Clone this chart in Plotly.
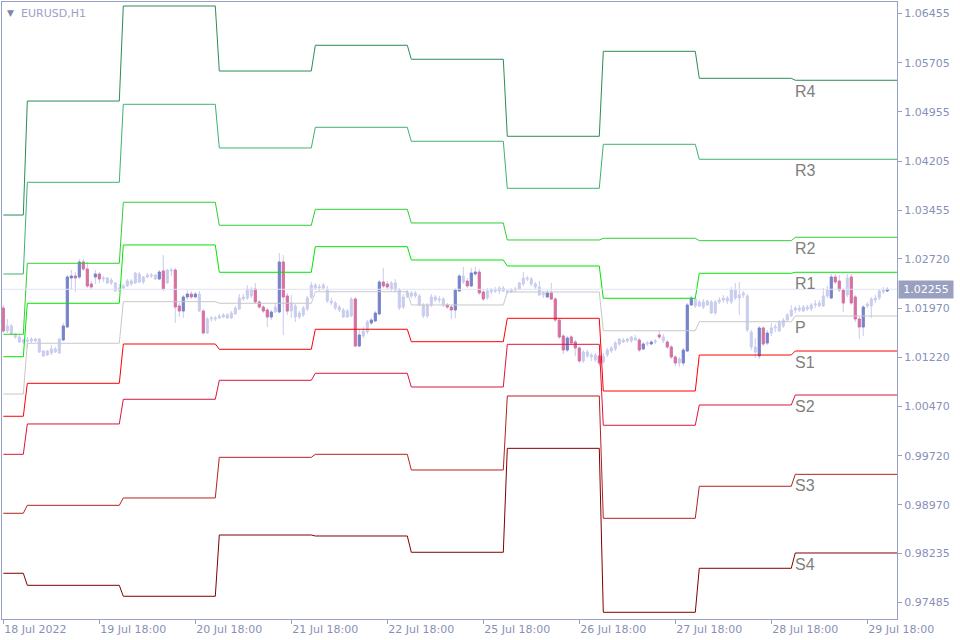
import plotly.graph_objects as go

symbol = "EURUSD,H1"
day_bars = [6, 24, 24, 24, 24, 24, 24, 24, 24, 24]

opens = [1.01970,1.01620,1.01696,1.01574,1.01529,1.01452,1.01483,1.01468,1.01498,1.01498,
 1.01315,1.01254,1.01285,1.01300,1.01285,1.01483,1.01681,1.02427,1.02457,1.02442,
 1.02671,1.02564,1.02336,1.02442,1.02488,1.02412,1.02427,1.02351,1.02351,1.02244,
 1.02275,1.02305,1.02381,1.02351,1.02488,1.02366,1.02442,1.02457,1.02473,1.02412,
 1.02534,1.02351,1.02534,1.02549,1.02001,1.01924,1.02138,1.02183,1.02138,1.02183,
 1.01924,1.01589,1.01803,1.01818,1.01818,1.01833,1.01864,1.01818,1.01879,1.01955,
 1.02107,1.02122,1.02259,1.02259,1.02062,1.01985,1.01940,1.01833,1.01909,1.01909,
 1.02671,1.02153,1.01924,1.02001,1.01833,1.01864,1.01955,1.02138,1.02320,1.02275,
 1.02275,1.02244,1.02077,1.02046,1.01985,1.01940,1.01833,1.01848,1.02107,1.01391,
 1.01544,1.01605,1.01742,1.01772,1.01879,1.02366,1.02336,1.02259,1.02351,1.02244,
 1.01985,1.02138,1.02199,1.02153,1.02153,1.02016,1.01848,1.02016,1.02138,1.02092,
 1.02107,1.02016,1.01985,1.01940,1.02229,1.02457,1.02381,1.02305,1.02488,1.02518,
 1.02214,1.02122,1.02214,1.02244,1.02229,1.02275,1.02229,1.02214,1.02244,1.02259,
 1.02336,1.02427,1.02412,1.02336,1.02290,1.02168,1.02138,1.02199,1.02107,1.01787,
 1.01544,1.01330,1.01529,1.01452,1.01361,1.01163,1.01300,1.01224,1.01254,1.01239,
 1.01148,1.01254,1.01315,1.01346,1.01422,1.01483,1.01468,1.01468,1.01513,1.01483,
 1.01346,1.01422,1.01422,1.01452,1.01559,1.01529,1.01452,1.01376,1.01224,1.01132,
 1.01132,1.01315,1.02016,1.02107,1.02001,1.02062,1.02016,1.02062,1.01894,1.02062,
 1.02092,1.02122,1.02062,1.02244,1.02122,1.02168,1.02153,1.01605,1.01376,1.01239,
 1.01666,1.01437,1.01589,1.01666,1.01620,1.01696,1.01787,1.01848,1.01940,1.01970,
 1.01924,1.01985,1.01955,1.02016,1.02001,1.02001,1.02153,1.02122,1.02442,1.02381,
 1.02244,1.02168,1.02442,1.02138,1.01803,1.01681,1.02001,1.02001,1.02092,1.02122,
 1.02214,1.02229]
highs = [1.02016,1.01803,1.01727,1.01589,1.01559,1.01498,1.01529,1.01529,1.01513,1.01513,
 1.01330,1.01330,1.01407,1.01376,1.01513,1.01742,1.02473,1.02549,1.02518,1.02716,
 1.02716,1.02671,1.02381,1.02549,1.02518,1.02457,1.02442,1.02427,1.02366,1.02336,
 1.02336,1.02412,1.02412,1.02518,1.02518,1.02457,1.02503,1.02503,1.02488,1.02549,
 1.02777,1.02564,1.02579,1.02579,1.02046,1.02168,1.02244,1.02229,1.02214,1.02229,
 1.01955,1.01833,1.01848,1.01848,1.01879,1.01894,1.01894,1.01924,1.02001,1.02183,
 1.02183,1.02320,1.02290,1.02351,1.02092,1.02016,1.01970,1.01940,1.02031,1.02808,
 1.02777,1.02199,1.02168,1.02031,1.01924,1.02001,1.02153,1.02366,1.02351,1.02336,
 1.02351,1.02305,1.02122,1.02077,1.02016,1.01970,1.01955,1.02138,1.02138,1.01635,
 1.01681,1.01787,1.01818,1.01924,1.02397,1.02579,1.02381,1.02381,1.02412,1.02275,
 1.02183,1.02244,1.02229,1.02229,1.02183,1.02046,1.02046,1.02183,1.02168,1.02153,
 1.02138,1.02046,1.02016,1.02275,1.02488,1.02595,1.02427,1.02579,1.02595,1.02564,
 1.02244,1.02275,1.02275,1.02290,1.02305,1.02305,1.02259,1.02275,1.02290,1.02366,
 1.02518,1.02457,1.02442,1.02366,1.02381,1.02229,1.02244,1.02351,1.02138,1.01818,
 1.01574,1.01544,1.01559,1.01483,1.01391,1.01330,1.01330,1.01285,1.01285,1.01270,
 1.01285,1.01361,1.01391,1.01468,1.01513,1.01513,1.01513,1.01544,1.01559,1.01513,
 1.01452,1.01468,1.01483,1.01498,1.01620,1.01574,1.01483,1.01407,1.01254,1.01224,
 1.01361,1.02046,1.02153,1.02138,1.02092,1.02107,1.02092,1.02092,1.02092,1.02138,
 1.02168,1.02153,1.02290,1.02351,1.02366,1.02229,1.02183,1.01635,1.01513,1.01696,
 1.01696,1.01635,1.01742,1.01727,1.01787,1.01818,1.01894,1.02016,1.02001,1.02016,
 1.02016,1.02016,1.02046,1.02092,1.02092,1.02275,1.02305,1.02488,1.02488,1.02473,
 1.02275,1.02488,1.02488,1.02168,1.01833,1.02016,1.02062,1.02138,1.02168,1.02259,
 1.02290,1.02290]
lows = [1.01589,1.01589,1.01559,1.01498,1.01437,1.01422,1.01361,1.01437,1.01452,1.01285,
 1.01224,1.01239,1.01254,1.01285,1.01270,1.01468,1.01666,1.02244,1.02214,1.02412,
 1.02534,1.02275,1.02244,1.02336,1.02351,1.02366,1.02336,1.02320,1.02214,1.02214,
 1.02259,1.02290,1.02305,1.02336,1.02351,1.02336,1.02427,1.02427,1.02397,1.02397,
 1.02229,1.02336,1.02457,1.01742,1.01833,1.01818,1.02092,1.02107,1.02122,1.01909,
 1.01574,1.01574,1.01757,1.01772,1.01803,1.01818,1.01803,1.01803,1.01864,1.01940,
 1.02077,1.02092,1.02122,1.02031,1.01955,1.01894,1.01681,1.01787,1.01894,1.01894,
 1.01559,1.01864,1.01818,1.01757,1.01803,1.01833,1.01924,1.02107,1.02244,1.02229,
 1.02244,1.02046,1.02016,1.01940,1.01909,1.01818,1.01818,1.01833,1.01376,1.01376,
 1.01513,1.01574,1.01711,1.01757,1.01864,1.02275,1.02244,1.02229,1.02214,1.01940,
 1.01955,1.02122,1.02122,1.02122,1.02001,1.01818,1.01818,1.01985,1.02062,1.02046,
 1.01985,1.01955,1.01803,1.01818,1.02214,1.02336,1.02275,1.02290,1.02457,1.02168,
 1.02077,1.02092,1.02183,1.02199,1.02183,1.02214,1.02183,1.02199,1.02214,1.02244,
 1.02305,1.02381,1.02305,1.02259,1.02153,1.02122,1.02122,1.02092,1.01757,1.01498,
 1.01270,1.01300,1.01422,1.01239,1.01132,1.01132,1.01209,1.01163,1.01148,1.01087,
 1.01117,1.01224,1.01285,1.01315,1.01391,1.01437,1.01437,1.01437,1.01468,1.01300,
 1.01330,1.01391,1.01407,1.01422,1.01498,1.01437,1.01346,1.01193,1.01087,1.01071,
 1.01087,1.01300,1.02001,1.01970,1.01985,1.01955,1.02001,1.01879,1.01864,1.02031,
 1.02046,1.02031,1.02031,1.02092,1.01864,1.02122,1.01605,1.01330,1.01209,1.01193,
 1.01391,1.01407,1.01544,1.01605,1.01605,1.01666,1.01757,1.01833,1.01894,1.01909,
 1.01909,1.01924,1.01924,1.01970,1.01985,1.01985,1.02122,1.02107,1.02336,1.02214,
 1.01909,1.02138,1.02016,1.01757,1.01498,1.01544,1.01970,1.01818,1.02046,1.02092,
 1.02183,1.02214]
closes = [1.01620,1.01696,1.01574,1.01529,1.01452,1.01483,1.01468,1.01498,1.01468,1.01300,
 1.01239,1.01315,1.01346,1.01346,1.01498,1.01696,1.02442,1.02457,1.02427,1.02671,
 1.02564,1.02305,1.02290,1.02488,1.02412,1.02427,1.02351,1.02397,1.02229,1.02275,
 1.02305,1.02381,1.02336,1.02503,1.02366,1.02442,1.02473,1.02473,1.02412,1.02518,
 1.02259,1.02549,1.02549,1.01985,1.01924,1.02138,1.02183,1.02138,1.02183,1.01924,
 1.01589,1.01803,1.01818,1.01803,1.01848,1.01864,1.01818,1.01894,1.01970,1.02122,
 1.02138,1.02259,1.02153,1.02062,1.01985,1.01924,1.01833,1.01909,1.01985,1.02671,
 1.02138,1.01924,1.02046,1.01833,1.01894,1.01970,1.02122,1.02320,1.02275,1.02290,
 1.02320,1.02077,1.02046,1.01970,1.01940,1.01833,1.01924,1.02107,1.01391,1.01559,
 1.01620,1.01757,1.01787,1.01894,1.02366,1.02305,1.02290,1.02351,1.02244,1.01970,
 1.02138,1.02214,1.02153,1.02199,1.02016,1.01848,1.02016,1.02138,1.02092,1.02107,
 1.02016,1.01985,1.01940,1.02244,1.02457,1.02366,1.02305,1.02503,1.02518,1.02199,
 1.02107,1.02229,1.02244,1.02229,1.02275,1.02229,1.02214,1.02244,1.02259,1.02351,
 1.02427,1.02412,1.02336,1.02290,1.02168,1.02199,1.02199,1.02107,1.01787,1.01529,
 1.01330,1.01513,1.01437,1.01361,1.01163,1.01300,1.01239,1.01254,1.01178,1.01132,
 1.01239,1.01330,1.01361,1.01437,1.01498,1.01452,1.01498,1.01529,1.01483,1.01330,
 1.01422,1.01437,1.01452,1.01468,1.01529,1.01468,1.01376,1.01224,1.01132,1.01193,
 1.01330,1.02016,1.02122,1.02001,1.02062,1.01985,1.02077,1.01894,1.02062,1.02092,
 1.02122,1.02077,1.02244,1.02122,1.02168,1.02199,1.01635,1.01376,1.01300,1.01666,
 1.01422,1.01589,1.01666,1.01681,1.01757,1.01787,1.01864,1.01940,1.01970,1.01940,
 1.01985,1.01955,1.02016,1.02031,1.02046,1.02153,1.02244,1.02442,1.02366,1.02244,
 1.02046,1.02427,1.02046,1.01803,1.01681,1.01985,1.02031,1.02107,1.02122,1.02229,
 1.02244,1.02255]

highlighted = [0, 15, 16, 17, 18, 19, 20, 21, 22, 23, 24, 39, 40, 43, 44, 45, 46, 47, 48, 50,
 63, 64, 65, 66, 67, 69, 70, 71, 88, 89, 92, 93, 94, 95, 96,
 111, 112, 113, 114, 116, 117, 118, 119, 120,
 136, 137, 138, 139, 140, 141, 142, 143, 144, 149,
 159, 160, 162, 164, 166, 167, 168, 170, 171, 172,
 189, 190, 191, 207, 208, 209, 210, 212, 213, 214, 215, 221]

pivot_names = ["R4", "R3", "R2", "R1", "P", "S1", "S2", "S3", "S4"]
R4 = [1.03386, 1.05122, 1.06569, 1.05579, 1.05971, 1.05758, 1.04585, 1.05879, 1.05468, 1.05438]
R3 = [1.02488, 1.03884, 1.05072, 1.04407, 1.04722, 1.04509, 1.03793, 1.04463, 1.04235, 1.04235]
R2 = [1.01570, 1.02651, 1.03580, 1.03230, 1.03473, 1.03265, 1.03006, 1.03032, 1.02995, 1.03047]
R1 = [1.01228, 1.02042, 1.02930, 1.02514, 1.02904, 1.02701, 1.02610, 1.02118, 1.02499, 1.02514]
P = [1.00660, 1.01433, 1.02066, 1.02042, 1.02218, 1.02016, 1.02214, 1.01624, 1.01761, 1.01848]
S1 = [1.00321, 1.00823, 1.01422, 1.01341, 1.01646, 1.01457, 1.01813, 1.00706, 1.01254, 1.01315]
S2 = [0.99742, 1.00204, 1.00580, 1.00869, 1.00976, 1.00767, 1.01417, 1.00184, 1.00493, 1.00645]
S3 = [0.98844, 0.98965, 0.99077, 0.99696, 0.99742, 0.99503, 1.00630, 0.98767, 0.99255, 0.99437]
S4 = [0.97930, 0.97747, 0.97580, 0.98513, 0.98498, 0.98250, 0.99833, 0.97336, 0.98006, 0.98239]
pivot_levels = [R4, R3, R2, R1, P, S1, S2, S3, S4]

x_tick_bars = [0, 24, 48, 72, 96, 120, 144, 168, 192, 216]
x_tick_labels = ["18 Jul 2022", "19 Jul 18:00", "20 Jul 18:00", "21 Jul 18:00", "22 Jul 18:00",
                 "25 Jul 18:00", "26 Jul 18:00", "27 Jul 18:00", "28 Jul 18:00", "29 Jul 18:00"]
y_tick_values = [1.06455, 1.05705, 1.04955, 1.04205, 1.03455, 1.02720, 1.01970,
                 1.01220, 1.00470, 0.99720, 0.98970, 0.98235, 0.97485]

# ---------------------------------------------------------------
pivot_colors = ["#2e8b57", "#3cb371", "#32cd32", "#00e600", "#c8c8c8",
                "#ff0000", "#dc143c", "#b22222", "#800000"]
LIGHT = "#c8cced"
BLUE = "#7783c9"
PINK = "#d9709e"
AXIS = "#98a0c4"
TEXT = "#8890b8"
FONT = "DejaVu Sans, Verdana, sans-serif"

n = len(opens)
bars = list(range(n))
day_of = []
for d, cnt in enumerate(day_bars):
    day_of += [d] * cnt
last_day_start = sum(day_bars[:-1])

fig = go.Figure()

for name, lv, col in zip(pivot_names, pivot_levels, pivot_colors):
    xs = bars + [n + 2]
    ys = [lv[day_of[i]] for i in bars] + [lv[-1]]
    fig.add_trace(go.Scatter(x=xs, y=ys, mode="lines", line=dict(color=col, width=1),
                             hoverinfo="skip", showlegend=False))

# current price line
fig.add_trace(go.Scatter(x=[-1, n + 2], y=[closes[-1], closes[-1]], mode="lines",
                         line=dict(color="#dfe2f3", width=1), hoverinfo="skip", showlegend=False))

fig.add_trace(go.Candlestick(
    x=bars, open=opens, high=highs, low=lows, close=closes,
    increasing=dict(line=dict(color=LIGHT, width=1), fillcolor=LIGHT),
    decreasing=dict(line=dict(color=LIGHT, width=1), fillcolor=LIGHT),
    whiskerwidth=0, hoverinfo="skip", showlegend=False))

hx = highlighted
ho = [opens[i] for i in hx]
hc = [closes[i] for i in hx]
fig.add_trace(go.Candlestick(
    x=hx, open=ho, close=hc,
    high=[max(a, b) for a, b in zip(ho, hc)], low=[min(a, b) for a, b in zip(ho, hc)],
    increasing=dict(line=dict(color=BLUE, width=1), fillcolor=BLUE),
    decreasing=dict(line=dict(color=PINK, width=1), fillcolor=PINK),
    whiskerwidth=0, hoverinfo="skip", showlegend=False))

annotations = []
for name, lv in zip(pivot_names, pivot_levels):
    annotations.append(dict(x=last_day_start, y=lv[-1], xref="x", yref="y", text=name,
                            showarrow=False, xanchor="left", yanchor="top", xshift=-2, yshift=-1,
                            font=dict(family="Liberation Sans, Arial, sans-serif", size=16,
                                      color="#808080")))
annotations.append(dict(x=1, y=closes[-1], xref="paper", yref="y", text=f"{closes[-1]:.5f}",
                        showarrow=False, xanchor="left", yanchor="middle", xshift=1,
                        bgcolor="#9aa0c0", borderpad=2, width=50, align="center",
                        font=dict(family=FONT, size=11, color="white")))
annotations.append(dict(x=0, y=1, xref="paper", yref="paper", text=symbol, showarrow=False,
                        xanchor="left", yanchor="top", xshift=17, yshift=-3,
                        font=dict(family=FONT, size=11, color="#9aa2c6")))
annotations.append(dict(x=0, y=1, xref="paper", yref="paper", text="▼", showarrow=False,
                        xanchor="left", yanchor="top", xshift=3, yshift=-4,
                        font=dict(family=FONT, size=9, color="#7d86a8")))

fig.update_layout(
    width=960, height=640,
    margin=dict(l=2, r=63, t=2, b=21),
    paper_bgcolor="white", plot_bgcolor="white",
    showlegend=False,
    boxgap=0.28,
    annotations=annotations,
    xaxis=dict(range=[-0.33, 223.43], showgrid=False, zeroline=False,
               rangeslider=dict(visible=False),
               showline=True, linecolor=AXIS, linewidth=1, mirror=True,
               tickmode="array", tickvals=x_tick_bars, ticktext=x_tick_labels,
               ticks="outside", ticklen=4, tickcolor=AXIS,
               ticklabelposition="outside right",
               tickfont=dict(family=FONT, size=11, color=TEXT)),
    yaxis=dict(range=[0.972338, 1.066301], side="right", showgrid=False, zeroline=False,
               showline=True, linecolor=AXIS, linewidth=1, mirror=True,
               tickmode="array", tickvals=y_tick_values,
               ticktext=[f"{v:.5f}" for v in y_tick_values],
               ticks="outside", ticklen=4, tickcolor=AXIS,
               tickfont=dict(family=FONT, size=11, color=TEXT)),
)

fig.write_html("out.html", config={"displayModeBar": False},
               post_script="document.body.style.margin='0';document.body.style.overflow='hidden';")
